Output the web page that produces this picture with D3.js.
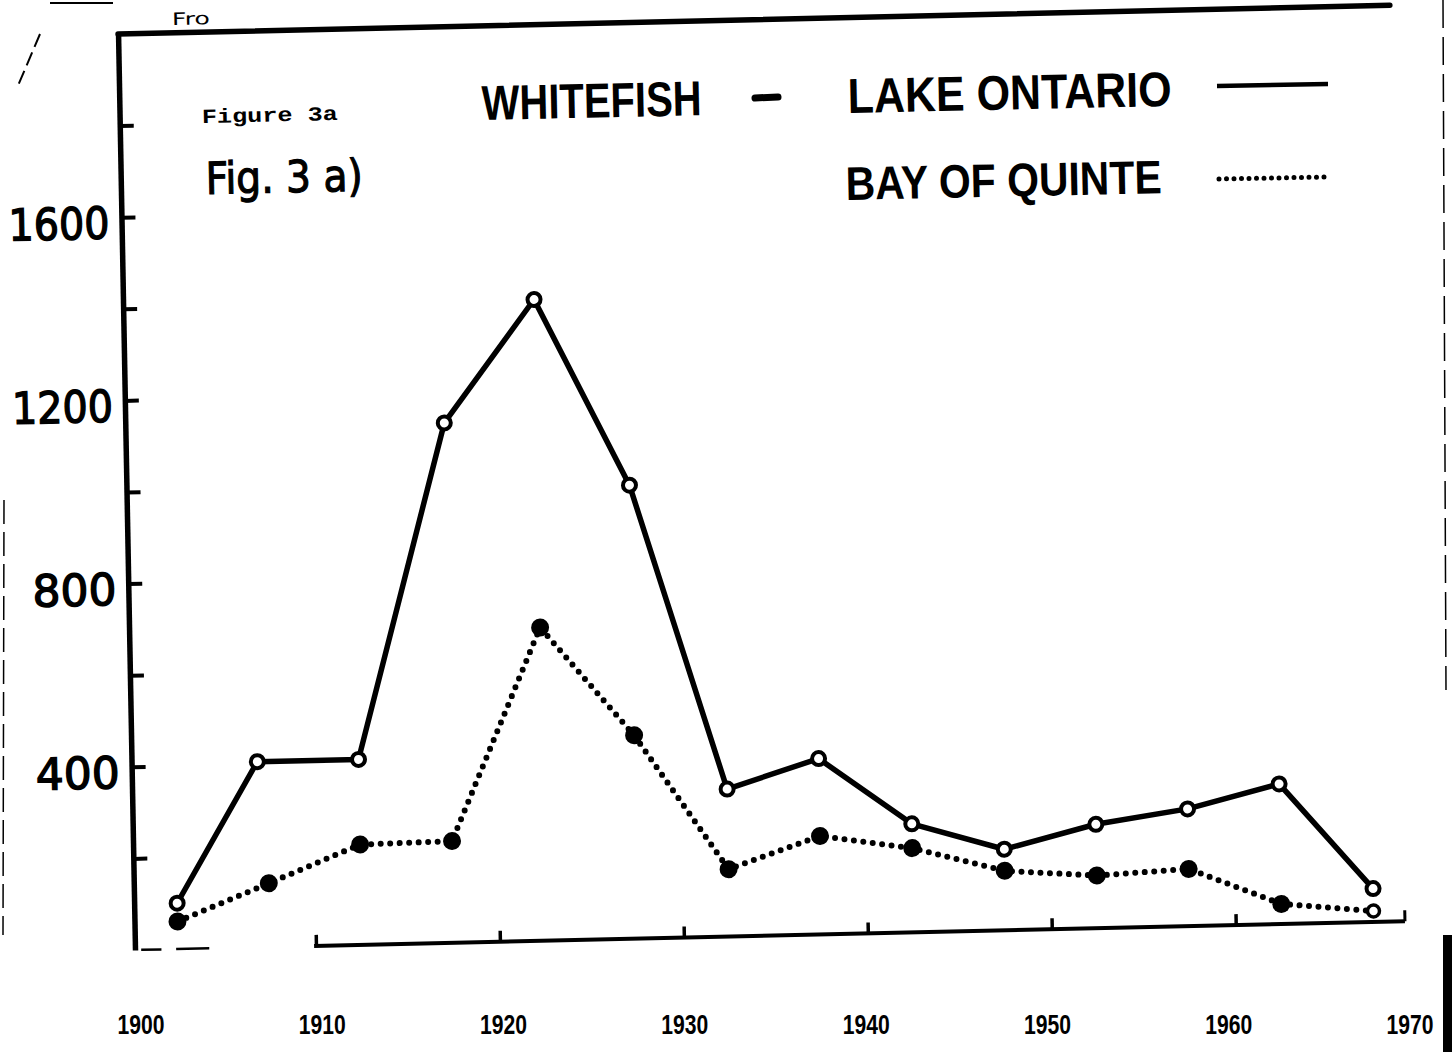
<!DOCTYPE html>
<html>
<head>
<meta charset="utf-8">
<script src="https://cdn.jsdelivr.net/npm/d3@7"></script>
<style>
  html, body { margin: 0; padding: 0; background: #fff; }
  svg { display: block; }
</style>
</head>
<body>
<svg id="chart" width="1456" height="1052"></svg>
<script>
// Whitefish landings, 5-year periods (plotted at period mid-years)
const lakeYears    = [1902.5, 1907, 1912.5, 1917.5, 1922.5, 1927.5, 1932.5, 1937.5, 1942.5, 1947.5, 1952.5, 1957.5, 1962.5, 1967.5];
const lakeOntario  = [100, 405, 405, 1135, 1400, 990, 322, 384, 237, 177, 227, 256, 306, 73];
const bayYears     = [1902.5, 1907.5, 1912.5, 1917.5, 1922.5, 1927.5, 1932.5, 1937.5, 1942.5, 1947.5, 1952.5, 1957.5, 1962.5, 1967.5];
const bayOfQuinte  = [60, 139, 219, 222, 684, 444, 147, 215, 184, 130, 115, 125, 44, 24];

const yLabelValues = [400, 800, 1200, 1600];
const yTickValues  = [200, 400, 600, 800, 1000, 1200, 1400, 1600, 1800];
const xTickYears   = [1910, 1920, 1930, 1940, 1950, 1960];
const xLabelYears  = [1900, 1910, 1920, 1930, 1940, 1950, 1960, 1970];

const svg = d3.select("#chart");
const INK = "#000";

// The plotting sheet sits slightly askew on the page:
// its base rises to the right, its left edge leans left going up.
const sheet = { a: 0.99974, b: -0.0226, c: 0.0185, d: 1, e: 135, f: 950 };
const tilt = -1.25;

const x = d3.scaleLinear().domain([1900, 1970]).range([-3, 1285]);
const y = d3.scaleLinear().domain([0, 2000]).range([0, -916]);
// Year labels were typed on a separate horizontal line below the sheet
const xLabel = d3.scaleLinear().domain([1900, 1970]).range([141, 1410]);

const plot = svg.append("g")
  .attr("transform", `matrix(${sheet.a},${sheet.b},${sheet.c},${sheet.d},${sheet.e},${sheet.f})`);

// Left axis with inward ticks
const leftAxis = plot.append("g")
  .call(d3.axisRight(y).tickValues(yTickValues).tickSizeInner(14).tickSizeOuter(0).tickFormat(""));
leftAxis.select(".domain").attr("stroke", INK).attr("stroke-width", 5.5);
leftAxis.selectAll(".tick line").attr("stroke", INK).attr("stroke-width", 4);

// Value labels
plot.append("g").selectAll("text")
  .data(yLabelValues)
  .join("text")
  .attr("x", -12)
  .attr("y", d => y(d) + 21)
  .attr("text-anchor", "end")
  .attr("font-family", "DejaVu Sans, Verdana, sans-serif")
  .attr("font-size", 44)
  .attr("textLength", d => String(d).length === 4 ? 101 : 84)
  .attr("lengthAdjust", "spacingAndGlyphs")
  .attr("fill", INK)
  .attr("stroke", INK)
  .attr("stroke-width", 1.4)
  .text(d => d);

// Top border of the plotting frame
plot.append("line")
  .attr("x1", 0).attr("x2", x(1969.3))
  .attr("y1", y(2000)).attr("y2", y(2000))
  .attr("stroke", INK).attr("stroke-width", 5.5).attr("stroke-linecap", "round");

// Bottom axis: ticks point up, ruled line broken near the origin
const bottomAxis = plot.append("g")
  .call(d3.axisTop(x).tickValues(xTickYears).tickSizeInner(11).tickSizeOuter(0).tickFormat(""));
bottomAxis.select(".domain").remove();
bottomAxis.selectAll(".tick line").attr("stroke", INK).attr("stroke-width", 3.5);

const baseSegments = [[1900.5, 1901.6, 2.5], [1902.4, 1904.2, 2.5], [1909.9, 1969.2, 4]];
plot.append("g").selectAll("line")
  .data(baseSegments)
  .join("line")
  .attr("x1", d => x(d[0])).attr("x2", d => x(d[1]))
  .attr("y1", y(0)).attr("y2", y(0))
  .attr("stroke", INK).attr("stroke-width", d => d[2]);
plot.append("line")
  .attr("x1", x(1969.2)).attr("x2", x(1969.2))
  .attr("y1", y(0)).attr("y2", y(0) - 11)
  .attr("stroke", INK).attr("stroke-width", 3);

// Series data
const lakeData = lakeYears.map((yr, i) => ({ year: yr, value: lakeOntario[i] }));
const bayData  = bayYears.map((yr, i) => ({ year: yr, value: bayOfQuinte[i] }));

const line = d3.line().x(d => x(d.year)).y(d => y(d.value));

// Bay of Quinte: dotted line with solid dots
plot.append("path")
  .datum(bayData)
  .attr("d", line)
  .attr("fill", "none")
  .attr("stroke", INK)
  .attr("stroke-width", 6)
  .attr("stroke-linecap", "round")
  .attr("stroke-dasharray", "0 9.5");

// Lake Ontario: solid line
plot.append("path")
  .datum(lakeData)
  .attr("d", line)
  .attr("fill", "none")
  .attr("stroke", INK)
  .attr("stroke-width", 5.5)
  .attr("stroke-linejoin", "round");

const lastBay = bayData.length - 1;
plot.append("g").selectAll("circle")
  .data(bayData)
  .join("circle")
  .attr("cx", d => x(d.year))
  .attr("cy", d => y(d.value))
  .attr("r", (d, i) => i === lastBay ? 6 : 9)
  .attr("fill", (d, i) => i === lastBay ? "#fff" : INK)
  .attr("stroke", INK)
  .attr("stroke-width", (d, i) => i === lastBay ? 3.5 : 0);

plot.append("g").selectAll("circle")
  .data(lakeData)
  .join("circle")
  .attr("cx", d => x(d.year))
  .attr("cy", d => y(d.value))
  .attr("r", 6.5)
  .attr("fill", "#fff")
  .attr("stroke", INK)
  .attr("stroke-width", 4);

// Year labels
svg.append("g").selectAll("text")
  .data(xLabelYears)
  .join("text")
  .attr("x", d => xLabel(d))
  .attr("y", 1034)
  .attr("text-anchor", "middle")
  .attr("font-family", "Liberation Sans Narrow, Liberation Sans, Arial, sans-serif")
  .attr("font-weight", "bold")
  .attr("font-size", 27)
  .attr("textLength", 47)
  .attr("lengthAdjust", "spacingAndGlyphs")
  .attr("fill", INK)
  .text(d => d);

// Heading and legend
function tiltedText(tx, ty, str, opts) {
  const t = svg.append("text")
    .attr("transform", `translate(${tx},${ty}) rotate(${tilt})`)
    .attr("font-family", opts.family)
    .attr("font-size", opts.size)
    .attr("font-weight", opts.weight || "normal")
    .attr("fill", INK)
    .text(str);
  if (opts.length) t.attr("textLength", opts.length).attr("lengthAdjust", "spacingAndGlyphs");
  if (opts.stroke) t.attr("stroke", INK).attr("stroke-width", opts.stroke);
  return t;
}

const headFont = "Liberation Sans, Arial, Helvetica, sans-serif";
tiltedText(482, 120, "WHITEFISH", { family: headFont, size: 49, weight: "bold", length: 220 });
tiltedText(848, 113, "LAKE ONTARIO", { family: headFont, size: 49, weight: "bold", length: 324 });
tiltedText(846, 200, "BAY OF QUINTE", { family: headFont, size: 47, weight: "bold", length: 316 });

svg.append("line")
  .attr("x1", 755).attr("x2", 778).attr("y1", 98).attr("y2", 97)
  .attr("stroke", INK).attr("stroke-width", 7).attr("stroke-linecap", "round");

svg.append("line")
  .attr("x1", 1217).attr("x2", 1328).attr("y1", 86).attr("y2", 84)
  .attr("stroke", INK).attr("stroke-width", 4.5);
svg.append("line")
  .attr("x1", 1219).attr("x2", 1328).attr("y1", 179).attr("y2", 177)
  .attr("stroke", INK).attr("stroke-width", 5)
  .attr("stroke-linecap", "round")
  .attr("stroke-dasharray", "0 7.5");

tiltedText(202, 123, "Figure 3a", { family: "Liberation Mono, Courier New, monospace", size: 20, weight: "bold", length: 136 });
tiltedText(206, 194, "Fig. 3 a)", { family: "DejaVu Sans, sans-serif", size: 44, length: 157, stroke: 1.2 });
tiltedText(172, 25, "Fro", { family: "DejaVu Sans, sans-serif", size: 17, length: 38 });

// Page edges
svg.append("line").attr("x1", 50).attr("x2", 113).attr("y1", 3).attr("y2", 3)
  .attr("stroke", INK).attr("stroke-width", 2);
svg.append("line").attr("x1", 40).attr("x2", 17).attr("y1", 34).attr("y2", 88)
  .attr("stroke", INK).attr("stroke-width", 2).attr("stroke-dasharray", "14 6");
svg.append("line").attr("x1", 1443).attr("x2", 1446).attr("y1", 0).attr("y2", 690)
  .attr("stroke", INK).attr("stroke-width", 1.5).attr("stroke-dasharray", "28 9");
svg.append("line").attr("x1", 4).attr("x2", 3).attr("y1", 500).attr("y2", 935)
  .attr("stroke", INK).attr("stroke-width", 1.5).attr("stroke-dasharray", "24 8");
svg.append("rect").attr("x", 1443).attr("y", 935).attr("width", 9).attr("height", 117).attr("fill", INK);
</script>
</body>
</html>
